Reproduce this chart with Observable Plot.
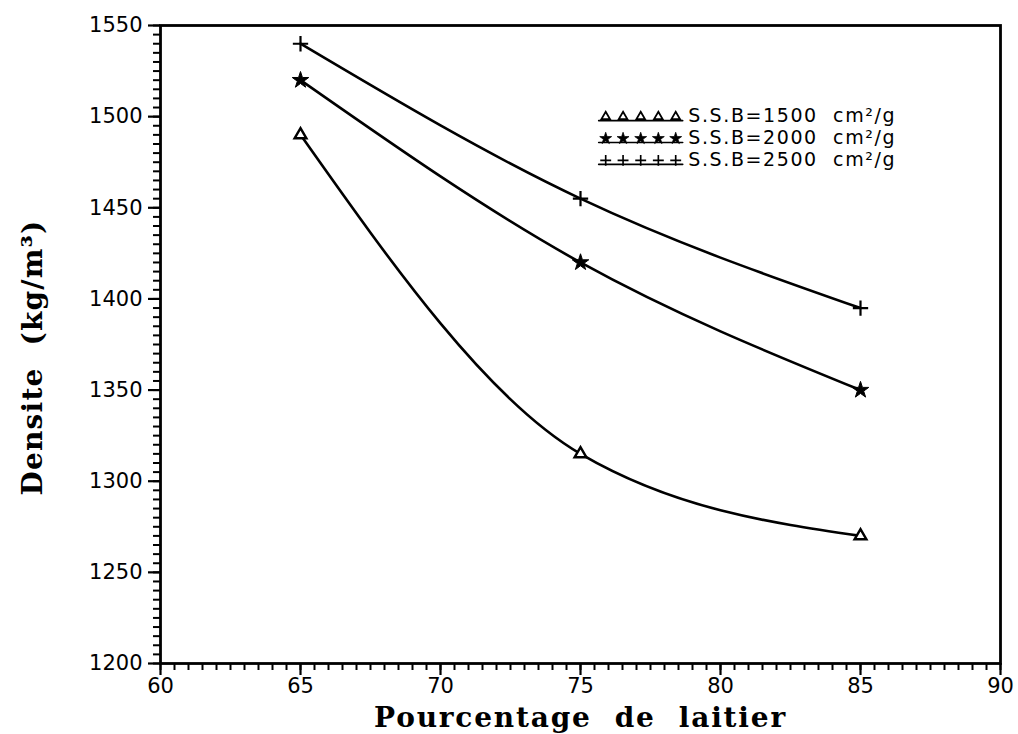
<!DOCTYPE html>
<html>
<head>
<meta charset="utf-8">
<script src="https://cdn.jsdelivr.net/npm/d3@7"></script>
<script src="https://cdn.jsdelivr.net/npm/@observablehq/plot@0.6"></script>
<style>
  body { margin: 0; background: #fff; }
  .legend-label text { letter-spacing: 1.6px; }
  .x-title text { letter-spacing: 1.8px; }
  .y-title text { letter-spacing: 1.2px; }
</style>
</head>
<body>
<div id="chart"></div>
<script>
// Slag percentage (x) and density in kg/m³ for three Blaine fineness values
const pourcentage = [65, 75, 85];
const densite1500 = [1490, 1315, 1270];
const densite2000 = [1520, 1420, 1350];
const densite2500 = [1540, 1455, 1395];

const seriesLabels = [
  "S.S.B=1500\u00a0\u00a0cm²/g",
  "S.S.B=2000\u00a0\u00a0cm²/g",
  "S.S.B=2500\u00a0\u00a0cm²/g"
];

const xTicks = [60, 65, 70, 75, 80, 85, 90];
const yTicks = [1200, 1250, 1300, 1350, 1400, 1450, 1500, 1550];

const xTitle = "Pourcentage\u00a0\u00a0de\u00a0\u00a0laitier";
const yTitle = "Densite\u00a0\u00a0(kg/m³)";

// Marker style of each series
const styles = [
  {symbol: "triangle", fill: "white", stroke: "black", strokeWidth: 2.4, r: 4.4},
  {symbol: "star", fill: "black", stroke: "black", strokeWidth: 1, r: 5.2},
  {symbol: "plus", fill: "none", stroke: "black", strokeWidth: 2.2, r: 5}
];

const seriesValues = [densite1500, densite2000, densite2500];
const series = seriesValues.map((values, k) => ({
  label: seriesLabels[k],
  style: styles[k],
  points: pourcentage.map((x, i) => ({x, y: values[i]}))
}));

// Legend layout (in data units, upper right of the frame)
const legendRowsY = [1500, 1488, 1476];
const legendMarkX = [75.9, 76.52, 77.15, 77.78, 78.4];
const legendTextX = 78.85;

const marks = [];

// Minor and major ticks
marks.push(Plot.axisX({ticks: d3.range(60, 90.001, 0.5), tickSize: 7, text: null, strokeWidth: 2, label: null}));
marks.push(Plot.axisX({ticks: xTicks, tickSize: 12, tickPadding: 3, tickFormat: "d", strokeWidth: 2.2, label: null,
  fontSize: 21, fontFamily: "DejaVu Sans"}));
marks.push(Plot.axisY({ticks: d3.range(1200, 1550.001, 5), tickSize: 7, text: null, strokeWidth: 2, label: null}));
marks.push(Plot.axisY({ticks: yTicks, tickSize: 12, tickPadding: 6, tickFormat: "d", strokeWidth: 2.2, label: null,
  fontSize: 21, fontFamily: "DejaVu Sans"}));

// Curves and markers
for (const s of series) {
  marks.push(Plot.line(s.points, {x: "x", y: "y", curve: "monotone-x", stroke: "black", strokeWidth: 2.6}));
  marks.push(Plot.dot(s.points, {x: "x", y: "y", ...s.style}));
}

// Legend: sample markers on an underline, then the series label
series.forEach((s, k) => {
  const yRow = legendRowsY[k];
  const markPts = legendMarkX.map(x => ({x, y: yRow}));
  marks.push(Plot.line([{x: legendMarkX[0] - 0.25, y: yRow}, {x: legendMarkX[4] + 0.25, y: yRow}],
    {x: "x", y: "y", stroke: "black", strokeWidth: 1.6, dy: 4}));
  marks.push(Plot.dot(markPts, {x: "x", y: "y", ...s.style, r: s.style.r * 0.72,
    strokeWidth: s.style.strokeWidth * 0.75}));
  marks.push(Plot.text([s.label], {x: legendTextX, y: yRow, text: d => d, textAnchor: "start",
    fontSize: 19, fontFamily: "DejaVu Sans", fill: "black", lineHeight: 0.9, className: "legend-label"}));
});

// Frame and axis titles
marks.push(Plot.frame({stroke: "black", strokeWidth: 2.8}));
marks.push(Plot.text([xTitle], {frameAnchor: "bottom", dy: 55, text: d => d, fontSize: 28,
  fontFamily: "DejaVu Serif", fontWeight: "bold", fill: "black", lineAnchor: "middle",
  textAnchor: "middle", className: "x-title"}));
marks.push(Plot.text([yTitle], {frameAnchor: "left", dx: -127, dy: 13, rotate: -90, text: d => d, fontSize: 28,
  fontFamily: "DejaVu Serif", fontWeight: "bold", fill: "black", lineAnchor: "middle",
  textAnchor: "middle", className: "y-title"}));

const chart = Plot.plot({
  width: 1018,
  height: 734,
  marginLeft: 160,
  marginRight: 18,
  marginTop: 25,
  marginBottom: 71,
  x: {domain: [60, 90]},
  y: {domain: [1200, 1550]},
  style: {background: "white", color: "black", fontFamily: "DejaVu Sans"},
  marks
});

document.getElementById("chart").appendChild(chart);
</script>
</body>
</html>
